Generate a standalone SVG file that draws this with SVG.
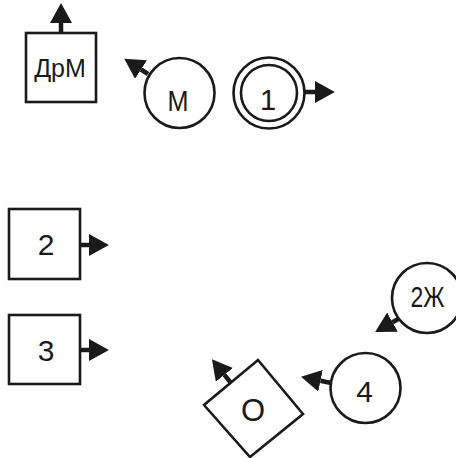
<svg xmlns="http://www.w3.org/2000/svg" width="456" height="458" viewBox="0 0 456 458">
<style>
.s{fill:#fff;stroke:#1a1a1a;stroke-width:2.6}
.t{font-family:"Liberation Sans",Arial,sans-serif;fill:#1a1a1a;text-anchor:middle}
.c{stroke:#1a1a1a;stroke-width:4.5;fill:none;marker-end:url(#ah)}
</style>
<defs>
<marker id="ah" markerUnits="userSpaceOnUse" markerWidth="20" markerHeight="22" refX="0" refY="10.5" orient="auto" viewBox="0 0 19 21">
<path d="M0,0 L19,10.5 L0,21 z" fill="#1a1a1a"/>
</marker>
</defs>
<rect width="456" height="458" fill="#fff"/>
<g id="connectors">
<line class="c" x1="61" y1="33" x2="61" y2="23"/>
<line class="c" x1="148" y1="74" x2="141" y2="69.5"/>
<line class="c" x1="305" y1="92" x2="315" y2="92"/>
<line class="c" x1="80" y1="245" x2="89" y2="245"/>
<line class="c" x1="80" y1="350" x2="89" y2="350"/>
<line class="c" x1="400" y1="318" x2="392.5" y2="322.2"/>
<line class="c" x1="331" y1="383" x2="320.5" y2="380.8"/>
<line class="c" x1="231" y1="383" x2="224.4" y2="374.8"/>
</g>
<g id="node-DrM">
<rect class="s" x="26" y="33" width="70" height="69"/>
<text class="t" x="60" y="77" font-size="25">ДрМ</text>
</g>
<g id="node-M">
<circle class="s" cx="179.5" cy="93" r="35"/>
<text class="t" x="178" y="111" font-size="29" textLength="21" lengthAdjust="spacingAndGlyphs">М</text>
</g>
<g id="node-1">
<circle class="s" cx="269" cy="93" r="35.5"/>
<circle class="s" cx="269" cy="93" r="28"/>
<text class="t" x="268" y="110" font-size="29">1</text>
</g>
<g id="node-2">
<rect class="s" x="9" y="209" width="71" height="70"/>
<text class="t" x="46" y="255" font-size="30">2</text>
</g>
<g id="node-3">
<rect class="s" x="9" y="315" width="71" height="69"/>
<text class="t" x="46" y="361" font-size="30">3</text>
</g>
<g id="node-2Zh">
<circle class="s" cx="427" cy="298" r="35"/>
<text class="t" x="427.5" y="307" font-size="30" textLength="34" lengthAdjust="spacingAndGlyphs">2Ж</text>
</g>
<g id="node-4">
<circle class="s" cx="365.5" cy="388" r="35"/>
<text class="t" x="364.5" y="402" font-size="30">4</text>
</g>
<g id="node-O">
<polygon class="s" points="258,360 303,414 250,457 204,405"/>
<text class="t" x="253" y="421" font-size="31">О</text>
</g>
</svg>
